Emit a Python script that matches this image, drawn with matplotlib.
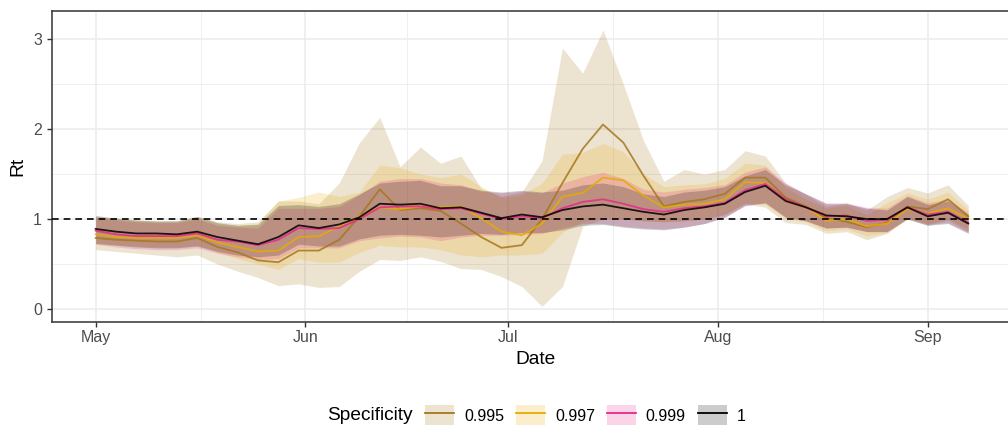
import matplotlib
matplotlib.use("Agg")
import matplotlib.pyplot as plt
import matplotlib.dates as mdates
from matplotlib.patches import Patch
from matplotlib.lines import Line2D
import pandas as pd

plt.rcParams['font.family'] = ['Liberation Sans', 'DejaVu Sans']

# ---------------- data ----------------
dates = pd.date_range("2020-05-01", periods=44, freq="3D")
spec_levels = ["0.995", "0.997", "0.999", "1"]
spec_colors = ["#A6761D", "#E6AB02", "#E7298A", "#000000"]

rt_995 = [0.79,0.77,0.76,0.75,0.75, 0.79,0.69,0.63,0.54,0.52, 0.65,0.65,0.77,1.03,1.33,
          1.10,1.12,1.09,0.95,0.80, 0.68,0.71,1.00,1.40,1.78, 2.05,1.85,1.48,1.14,1.19,
          1.22,1.28,1.46,1.46,1.24, 1.14,1.01,0.97,0.91,0.96, 1.14,1.11,1.22,1.03]
lo_995 = [0.66,0.64,0.62,0.60,0.58, 0.60,0.50,0.42,0.35,0.26, 0.28,0.24,0.25,0.42,0.55,
          0.54,0.58,0.53,0.45,0.44, 0.36,0.25,0.03,0.25,0.92, 1.00,1.00,0.98,0.97,0.98,
          1.00,1.05,1.17,1.13,0.96, 0.94,0.84,0.86,0.77,0.84, 1.00,0.93,0.99,0.86]
hi_995 = [1.03,1.01,0.99,0.98,0.98, 1.03,0.97,0.95,0.97,1.20, 1.20,1.17,1.40,1.85,2.13,
          1.58,1.80,1.62,1.70,1.34, 1.25,1.30,1.65,2.90,2.62, 3.10,2.50,1.87,1.42,1.55,
          1.50,1.55,1.76,1.70,1.40, 1.27,1.14,1.18,1.10,1.25, 1.35,1.29,1.38,1.15]

rt_997 = [0.83,0.80,0.79,0.79,0.79, 0.82,0.74,0.69,0.64,0.65, 0.80,0.81,0.92,1.03,1.13,
          1.11,1.14,1.13,1.14,1.01, 0.86,0.82,0.95,1.25,1.29, 1.46,1.43,1.26,1.13,1.16,
          1.17,1.22,1.41,1.40,1.20, 1.13,0.98,1.00,0.92,0.95, 1.11,1.06,1.12,1.00]
lo_997 = [0.72,0.71,0.70,0.69,0.69, 0.71,0.63,0.56,0.50,0.44, 0.56,0.52,0.52,0.63,0.71,
          0.69,0.69,0.66,0.60,0.58, 0.60,0.60,0.62,0.85,0.97, 1.02,1.00,0.98,0.97,0.98,
          1.00,1.05,1.18,1.16,1.00, 0.97,0.87,0.89,0.81,0.85, 1.01,0.95,1.00,0.89]
hi_997 = [1.02,1.00,0.98,0.97,0.97, 1.02,0.95,0.93,0.95,1.20, 1.24,1.30,1.25,1.30,1.60,
          1.57,1.50,1.46,1.50,1.36, 1.24,1.27,1.40,1.72,1.74, 1.84,1.75,1.50,1.36,1.38,
          1.39,1.45,1.62,1.60,1.35, 1.22,1.12,1.15,1.05,1.18, 1.29,1.22,1.30,1.10]

rt_999 = [0.87,0.83,0.81,0.81,0.81, 0.84,0.77,0.75,0.71,0.77, 0.90,0.89,0.90,1.00,1.13,
          1.14,1.14,1.11,1.12,1.06, 1.00,1.03,1.01,1.12,1.19, 1.22,1.17,1.11,1.08,1.12,
          1.14,1.18,1.32,1.39,1.22, 1.13,1.03,1.04,0.98,0.99, 1.13,1.05,1.08,0.96]
lo_999 = [0.72,0.69,0.67,0.66,0.66, 0.68,0.62,0.58,0.55,0.56, 0.68,0.68,0.68,0.76,0.79,
          0.81,0.80,0.76,0.80,0.82, 0.82,0.83,0.84,0.90,0.95, 0.95,0.92,0.90,0.89,0.91,
          0.95,1.02,1.15,1.18,1.02, 0.98,0.90,0.91,0.86,0.86, 1.01,0.94,0.96,0.85]
hi_999 = [1.02,0.99,0.97,0.96,0.96, 1.00,0.93,0.91,0.90,1.12, 1.12,1.12,1.14,1.27,1.42,
          1.45,1.45,1.40,1.38,1.31, 1.29,1.31,1.29,1.40,1.47, 1.52,1.45,1.33,1.30,1.33,
          1.35,1.38,1.52,1.58,1.40, 1.28,1.18,1.18,1.13,1.12, 1.26,1.18,1.22,1.07]

rt_1 = [0.89,0.86,0.84,0.84,0.83, 0.86,0.80,0.76,0.72,0.80, 0.93,0.90,0.94,1.02,1.17,
        1.16,1.17,1.12,1.13,1.07, 1.01,1.05,1.02,1.10,1.14, 1.16,1.12,1.08,1.05,1.10,
        1.13,1.17,1.30,1.37,1.20, 1.13,1.04,1.03,1.00,1.00, 1.13,1.03,1.07,0.95]
lo_1 = [0.73,0.71,0.69,0.68,0.68, 0.70,0.64,0.60,0.58,0.60, 0.72,0.70,0.70,0.78,0.82,
        0.83,0.82,0.80,0.82,0.84, 0.83,0.85,0.85,0.88,0.93, 0.94,0.91,0.89,0.88,0.91,
        0.95,1.02,1.15,1.18,1.02, 0.98,0.90,0.91,0.86,0.86, 1.00,0.93,0.95,0.84]
hi_1 = [1.04,1.01,0.99,0.98,0.98, 1.03,0.96,0.93,0.94,1.15, 1.16,1.14,1.17,1.28,1.40,
        1.42,1.43,1.37,1.37,1.32, 1.30,1.32,1.30,1.32,1.38, 1.40,1.36,1.28,1.25,1.30,
        1.32,1.36,1.48,1.55,1.38, 1.28,1.17,1.17,1.12,1.10, 1.25,1.16,1.20,1.05]

medians = [rt_995, rt_997, rt_999, rt_1]
lowers = [lo_995, lo_997, lo_999, lo_1]
uppers = [hi_995, hi_997, hi_999, hi_1]

# ---------------- figure ----------------
W, H = 1008, 425
fig = plt.figure(figsize=(W / 100, H / 100), dpi=100)
L, R, T, B = 51.7, 1019, 10.5, 322
ax = fig.add_axes([L / W, 1 - B / H, (R - L) / W, (B - T) / H])

grid_c = "#EBEBEB"
ax.set_axisbelow(True)

for lo, hi, c in zip(lowers, uppers, spec_colors):
    ax.fill_between(dates, lo, hi, color=c, alpha=0.2, lw=0, zorder=2)
for m, c in zip(medians, spec_colors):
    ax.plot(dates, m, color=c, lw=1.3, alpha=0.85, zorder=3, solid_joinstyle="round")

ax.axhline(1, color="black", lw=1.2, linestyle=(0, (4, 3)), zorder=4)

# axes limits / ticks
ax.set_xlim(dates[0] - pd.Timedelta(days=6.5), dates[-1] + pd.Timedelta(days=7.5))
ax.set_ylim(-0.144, 3.317)
ax.set_yticks([0, 1, 2, 3])
ax.set_yticks([0.5, 1.5, 2.5], minor=True)
ax.xaxis.set_major_locator(mdates.MonthLocator())
ax.xaxis.set_major_formatter(mdates.DateFormatter("%b"))
minor_days = [pd.Timestamp("2020-05-16 12:00"), pd.Timestamp("2020-06-16"),
              pd.Timestamp("2020-07-16 12:00"), pd.Timestamp("2020-08-16 12:00")]
ax.set_xticks(minor_days, minor=True)

ax.grid(True, which="major", color=grid_c, lw=1.1)
ax.grid(True, which="minor", color=grid_c, lw=0.55)

ax.tick_params(axis="both", which="major", length=3.6, width=1.0, color="#333333",
               labelcolor="#4D4D4D", labelsize=11.5)
ax.tick_params(axis="x", which="major", pad=2.5)
ax.tick_params(axis="y", which="major", pad=3.5)
ax.tick_params(which="minor", length=0)
for s in ax.spines.values():
    s.set_color("#333333")
    s.set_linewidth(1.1)

ax.set_xlabel("Date", fontsize=13.8, color="black", va="center")
ax.set_ylabel("Rt", fontsize=13.8, color="black", va="center")
ax.xaxis.set_label_coords(0.5, (B - 360) / (B - T))
ax.yaxis.set_label_coords((18 - L) / (R - L), 0.5)

# legend
handles = []
for c in spec_colors:
    handles.append((Patch(facecolor=c, alpha=0.2, edgecolor="none"),
                    Line2D([], [], color=c, lw=1.3)))
fs = 11.5
fig.text(327 / W, 1 - 416 / H, "Specificity", fontsize=13.8, ha="left", va="center")
leg = fig.legend(handles, spec_levels, loc="center left",
                 bbox_to_anchor=(425 / W, 1 - 416 / H), ncol=4, frameon=False,
                 fontsize=fs, handlelength=1.82, handleheight=1.82,
                 handletextpad=0.62, columnspacing=0.75, borderpad=0,
                 borderaxespad=0)

fig.savefig("out.png", dpi=100)
